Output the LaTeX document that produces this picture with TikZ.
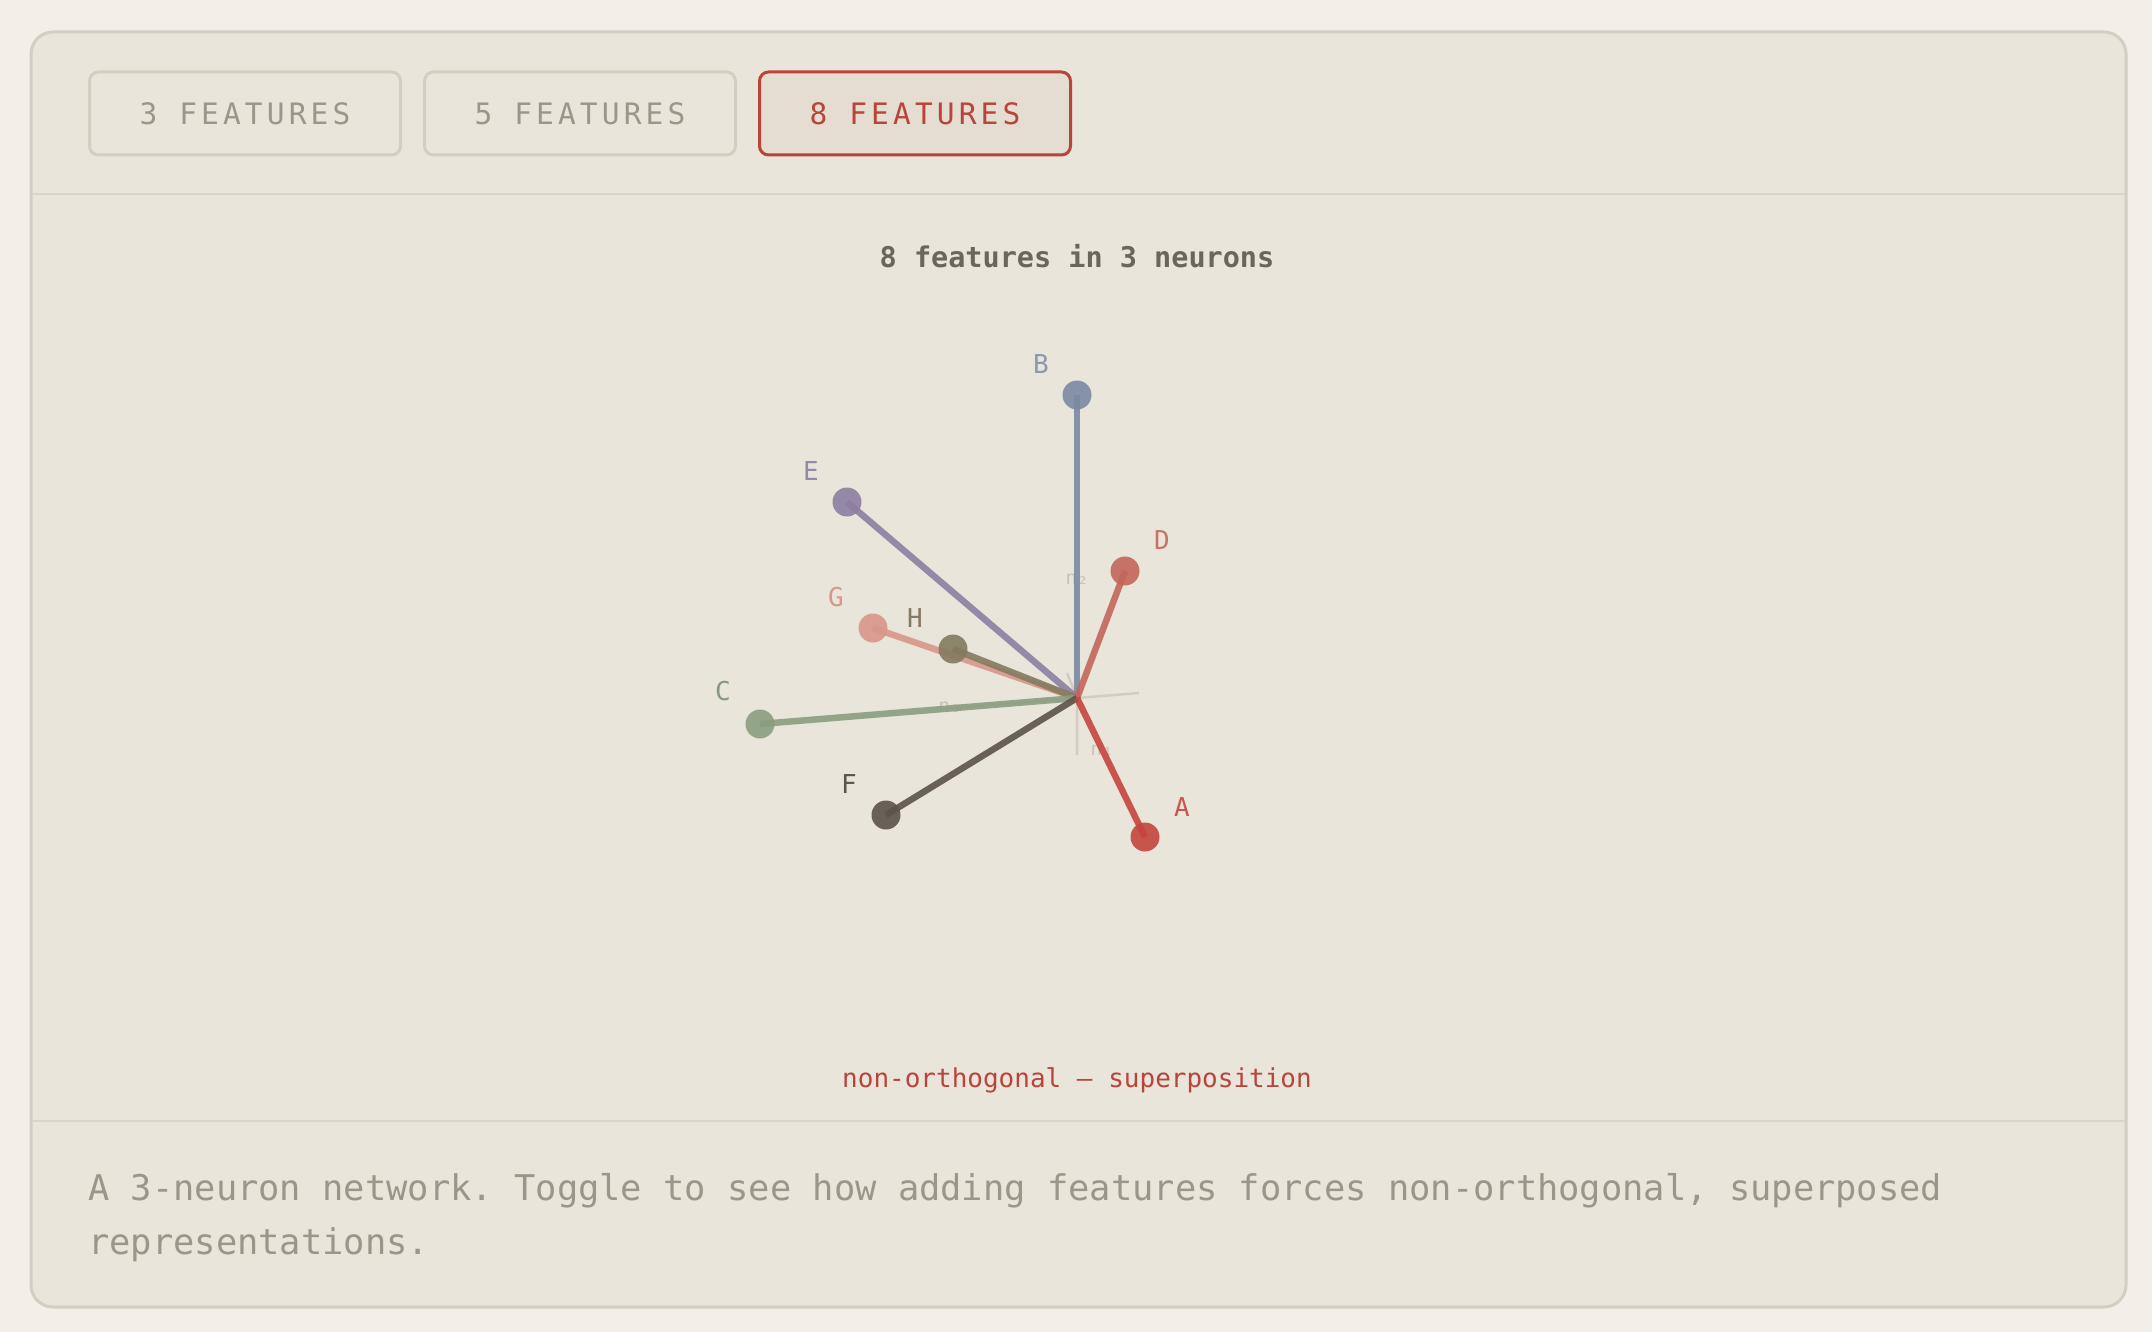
\documentclass[tikz,border=0pt]{standalone}
\usepackage{fontspec}
\setmonofont{DejaVu Sans Mono}
\newfontfamily\btnfont[LetterSpace=14]{DejaVu Sans Mono}
\usetikzlibrary{positioning}

\definecolor{pagebg}{HTML}{F3EFE8}
\definecolor{cardbg}{HTML}{E9E5DB}
\definecolor{cardline}{HTML}{D3CEC2}
\definecolor{rulec}{HTML}{DAD5CA}
\definecolor{mutedtxt}{HTML}{9C968A}
\definecolor{titletxt}{HTML}{6B665C}
\definecolor{accent}{HTML}{B8443A}
\definecolor{activebg}{HTML}{E5DCD2}
\definecolor{axisc}{HTML}{D3CDC1}
\definecolor{axtxt}{HTML}{C9C2B5}
\definecolor{fa}{HTML}{C4463E}
\definecolor{fb}{HTML}{7B8AA2}
\definecolor{fc}{HTML}{8A9D7F}
\definecolor{fd}{HTML}{C3665A}
\definecolor{fe}{HTML}{8D7EA2}
\definecolor{ff}{HTML}{5C534B}
\definecolor{fg}{HTML}{D8978A}
\definecolor{fh}{HTML}{847A60}

\begin{document}
\begin{tikzpicture}[x=1pt,y=-1pt,
  btn/.style={draw=cardline,line width=3pt,rounded corners=9pt,fill=cardbg,minimum width=311pt,minimum height=83pt,inner sep=0pt,text=mutedtxt,font=\btnfont\fontsize{29.5}{29.5}\selectfont},
  dot/.style={circle,inner sep=0pt,minimum size=29pt,fill opacity=0.9},
  ftline/.style={line width=6.5pt,opacity=0.9},
  flabel/.style={inner sep=0pt,font=\ttfamily\fontsize{26}{26}\selectfont},
  axlbl/.style={inner sep=0pt,text=axtxt,font=\ttfamily\fontsize{19}{19}\selectfont}]
\fill[pagebg] (0,0) rectangle (2152,1332);
\useasboundingbox (0,0) rectangle (2152,1332);

\draw[cardline,line width=3pt,fill=cardbg,rounded corners=22pt] (31,32) rectangle (2126,1307);
\draw[rulec,line width=2.5pt] (32.5,194) -- (2124.5,194) (32.5,1121) -- (2124.5,1121);

\node[btn] (b3f) at (245,113.5) {3 FEATURES};
\node[btn,right=21pt of b3f] (b5f) {5 FEATURES};
\node[btn,right=21pt of b5f,draw=accent,fill=activebg,text=accent] (b8f) {8 FEATURES};

\node[anchor=base,text=titletxt,font=\ttfamily\bfseries\fontsize{28.5}{28.5}\selectfont] (title) at (1077,268) {8 features in 3 neurons};

\coordinate (o) at (1077,698);
\coordinate (x1) at (1077,755);
\coordinate (x2) at (1077,580);
\coordinate (x3) at (950,708);
\draw[axisc,line width=2.5pt] (o) -- (x1) (o) -- (x2) (o) -- (x3) (o) -- (1139,693) (o) -- (1067,673);
\node[axlbl] (n1) at (1102,750) {n₁};
\node[axlbl] (n2) at (1077,579) {n₂};
\node[axlbl] (n3) at (950,707) {n₃};

\node[dot,fill=fb] (b) at (1077,395) {};
\draw[ftline,fb] (o) -- (b.center);
\node[dot,fill=fe] (e) at (847,502) {};
\draw[ftline,fe] (o) -- (e.center);
\node[dot,fill=fg] (g) at (873,628) {};
\draw[ftline,fg] (o) -- (g.center);
\node[dot,fill=fh] (h) at (953,649) {};
\draw[ftline,fh] (o) -- (h.center);
\node[dot,fill=fc] (c) at (760,724) {};
\draw[ftline,fc] (o) -- (c.center);
\node[dot,fill=fd] (d) at (1125,571) {};
\draw[ftline,fd] (o) -- (d.center);
\node[dot,fill=ff] (f) at (886,815) {};
\draw[ftline,ff] (o) -- (f.center);
\node[dot,fill=fa] (a) at (1145,837) {};
\draw[ftline,fa] (o) -- (a.center);

\node[flabel,text=fa!90!cardbg] (la) at ([shift={(37,-30)}]a.center) {A};
\node[flabel,text=fb!85!cardbg] (lb) at ([shift={(-36,-31)}]b.center) {B};
\node[flabel,text=fc!80!gray] (lc) at ([shift={(-37,-33)}]c.center) {C};
\node[flabel,text=fd!90!cardbg] (ld) at ([shift={(37,-31)}]d.center) {D};
\node[flabel,text=fe!90!cardbg] (le) at ([shift={(-36,-31)}]e.center) {E};
\node[flabel,text=ff] (lf) at ([shift={(-37,-31)}]f.center) {F};
\node[flabel,text=fg] (lg) at ([shift={(-37,-31)}]g.center) {G};
\node[flabel,text=fh] (lh) at ([shift={(-38,-31)}]h.center) {H};

\node[anchor=base,text=accent,font=\ttfamily\fontsize{26}{26}\selectfont] (note) at (1077,1087) {non-orthogonal — superposition};

\node[anchor=base west,align=left,inner sep=0pt,text=mutedtxt,font=\ttfamily\fontsize{35.4}{54}\selectfont] (caption) at (88,1254) {A 3-neuron network. Toggle to see how adding features forces non-orthogonal, superposed\\representations.};
\end{tikzpicture}
\end{document}
